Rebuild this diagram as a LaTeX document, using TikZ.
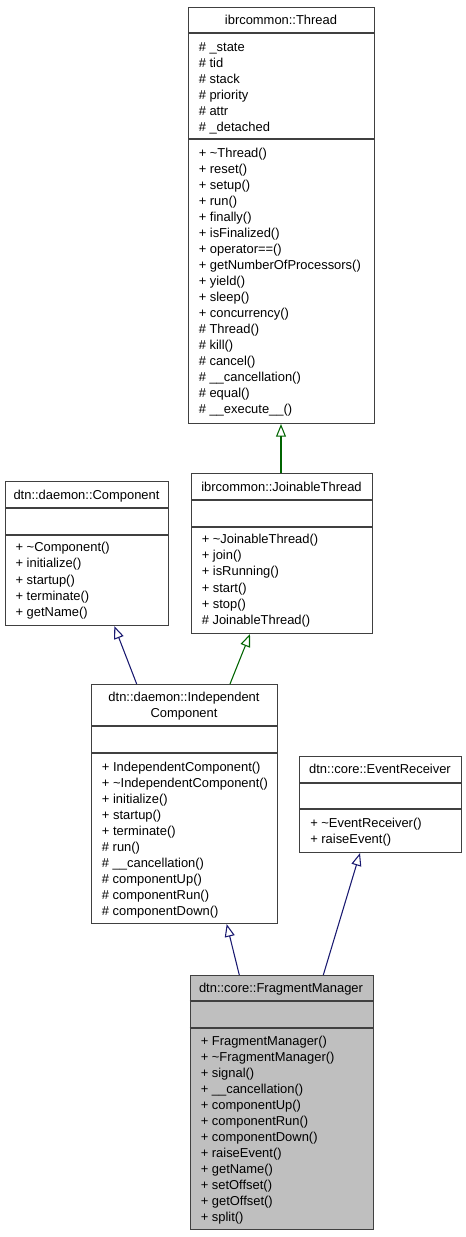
\documentclass[tikz,border=0pt]{standalone}
\usepackage{fontspec}
\setmainfont{Liberation Sans}
\usetikzlibrary{arrows.meta,calc}
\definecolor{boxline}{HTML}{404040}
\definecolor{pubblue}{HTML}{191970}
\definecolor{protgreen}{HTML}{006400}
\definecolor{curfill}{HTML}{BFBFBF}
\newcommand\classbox[6]{%
  \pgfmathsetmacro\bw{(#4-#2)*0.75}%
  \pgfmathsetmacro\bh{(#5-#3)*0.75}%
  \node[classrect, fill=#6, minimum width=\bw pt, minimum height=\bh pt, anchor=north west] (#1) at (#2,#3) {};%
}
\newcommand\sepline[2]{\draw[sepl] (#1.west |- 0,#2) -- (#1.east |- 0,#2);}
% name prefix, x, first baseline, step, list
\newcommand\memblist[5]{%
  \foreach \t [count=\i from 0] in {#5} {%
    \node[memb] (#1\i) at (#2,{#3+#4*\i}) {\t};%
  }%
}
\begin{document}
\begin{tikzpicture}[x=0.75pt,y=-0.75pt,
  classrect/.style={draw=boxline, line width=0.8pt, inner sep=0pt},
  sepl/.style={draw=boxline, line width=0.9pt},
  memb/.style={anchor=base west, inner sep=0pt, font=\fontsize{9.7}{12}\selectfont},
  ttl/.style={anchor=base, inner sep=0pt, font=\fontsize{9.7}{12}\selectfont},
  inh/.style={line width=0.8pt, -{Triangle[open, length=9.5pt, width=7.5pt]}}]
\useasboundingbox (0,0) rectangle (465,1237);
% Thread
\classbox{thread}{188}{7}{374}{423}{white}
\sepline{thread}{33}
\sepline{thread}{139}
\node[ttl] (threadT) at (281,24.5) {ibrcommon::Thread};
\memblist{threadA}{198.5}{51.2}{16}{\# \_state,\# tid,\# stack,\# priority,\# attr,\# \_detached}
\memblist{threadM}{198.5}{157.8}{16}{+ \textasciitilde Thread(),+ reset(),+ setup(),+ run(),+ finally(),+ isFinalized(),+ operator==(),+ getNumberOfProcessors(),+ yield(),+ sleep(),+ concurrency(),\# Thread(),\# kill(),\# cancel(),\# \_\_cancellation(),\# equal(),\# \_\_execute\_\_()}
% JoinableThread
\classbox{joinable}{191}{473}{372}{633}{white}
\sepline{joinable}{500}
\sepline{joinable}{527}
\node[ttl] (joinableT) at (281.5,491.2) {ibrcommon::JoinableThread};
\memblist{joinableM}{201.5}{543.5}{16.2}{+ \textasciitilde JoinableThread(),+ join(),+ isRunning(),+ start(),+ stop(),\# JoinableThread()}
% Component
\classbox{component}{5}{481}{168}{625}{white}
\sepline{component}{508}
\sepline{component}{535}
\node[ttl] (componentT) at (86.5,499.5) {dtn::daemon::Component};
\memblist{componentM}{15.3}{551.8}{16.1}{+ \textasciitilde Component(),+ initialize(),+ startup(),+ terminate(),+ getName()}
% IndependentComponent
\classbox{indep}{91}{684}{277}{923}{white}
\sepline{indep}{726}
\sepline{indep}{753}
\node[ttl] (indepT) at (184,701.2) {dtn::daemon::Independent};
\node[ttl] (indepT2) at (184,717.2) {Component};
\memblist{indepM}{101.7}{771.8}{15.93}{+ IndependentComponent(),+ \textasciitilde IndependentComponent(),+ initialize(),+ startup(),+ terminate(),\# run(),\# \_\_cancellation(),\# componentUp(),\# componentRun(),\# componentDown()}
% EventReceiver
\classbox{event}{299}{756}{461}{852}{white}
\sepline{event}{783}
\sepline{event}{809}
\node[ttl] (eventT) at (380,773.8) {dtn::core::EventReceiver};
\memblist{eventM}{310}{827.8}{15.8}{+ \textasciitilde EventReceiver(),+ raiseEvent()}
% FragmentManager
\classbox{frag}{189.5}{975}{372.7}{1229}{curfill}
\sepline{frag}{1001}
\sepline{frag}{1028}
\node[ttl] (fragT) at (281,992.8) {dtn::core::FragmentManager};
\memblist{fragM}{200.5}{1045.2}{16.05}{+ FragmentManager(),+ \textasciitilde FragmentManager(),+ signal(),+ \_\_cancellation(),+ componentUp(),+ componentRun(),+ componentDown(),+ raiseEvent(),+ getName(),+ setOffset(),+ getOffset(),+ split()}
% inheritance
\draw[inh, protgreen] ($(joinable.north west)+(90,0)$) -- ($(thread.south west)+(93,0)$);
\draw[inh, pubblue] ($(indep.north west)+(45.7,0)$) -- ($(component.south west)+(109.3,0)$);
\draw[inh, protgreen] ($(indep.north west)+(139,0)$) -- ($(joinable.south west)+(59,0)$);
\draw[inh, pubblue] ($(frag.north west)+(49.8,0)$) -- ($(indep.south west)+(135.7,0)$);
\draw[inh, pubblue] ($(frag.north west)+(133.8,0)$) -- ($(event.south west)+(61,0)$);
\end{tikzpicture}
\end{document}
